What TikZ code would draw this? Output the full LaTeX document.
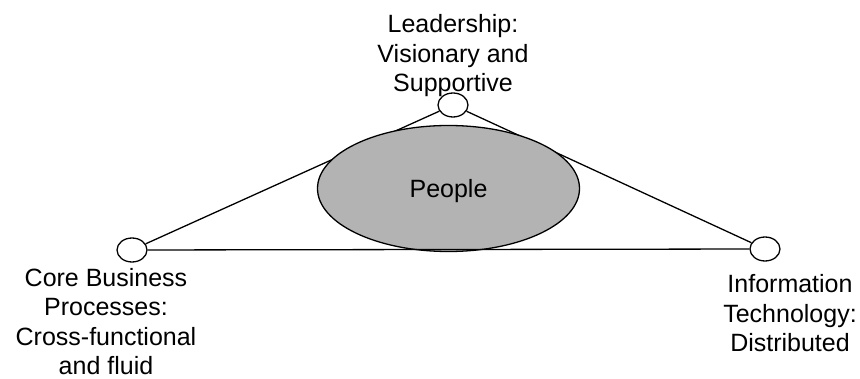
\documentclass[tikz,border=0pt]{standalone}
\usepackage{fontspec}
\setmainfont{Liberation Sans}
\usetikzlibrary{shapes.geometric}
\definecolor{peoplegray}{RGB}{179,179,179}
\begin{document}
\begin{tikzpicture}[x=1pt,y=-1pt,
				line width=1.3pt,
				every node/.style={font=\fontsize{25}{29.5}\selectfont},
				corner/.style={ellipse, draw, fill=white, minimum width=30pt, minimum height=24pt, inner sep=0},
				caption/.style={align=center, anchor=base, inner sep=0},
			]
			\useasboundingbox (0,0) rectangle (860,379);
			\clip (0,0) rectangle (860,379);
			\node[corner] (lead) at (453,105) {};
			\node[corner] (core) at (132,250) {};
			\node[corner] (info) at (765,249) {};
			\draw (lead) -- (core);
			\draw (lead) -- (info);
				\node[ellipse, draw, fill=peoplegray, minimum width=262pt, minimum height=126pt, inner sep=0, text depth=0pt] (people) at (448.5,188.5) {People};
			\draw (core) -- (info);
			\node[caption] (leadtext) at (453,92) {Leadership:\\Visionary and\\Supportive};
			\node[caption] (coretext) at (106,375) {Core Business\\Processes:\\Cross-functional\\and fluid};
			\node[caption] (infotext) at (790,352) {Information\\Technology:\\Distributed};
			\end{tikzpicture}
\end{document}
